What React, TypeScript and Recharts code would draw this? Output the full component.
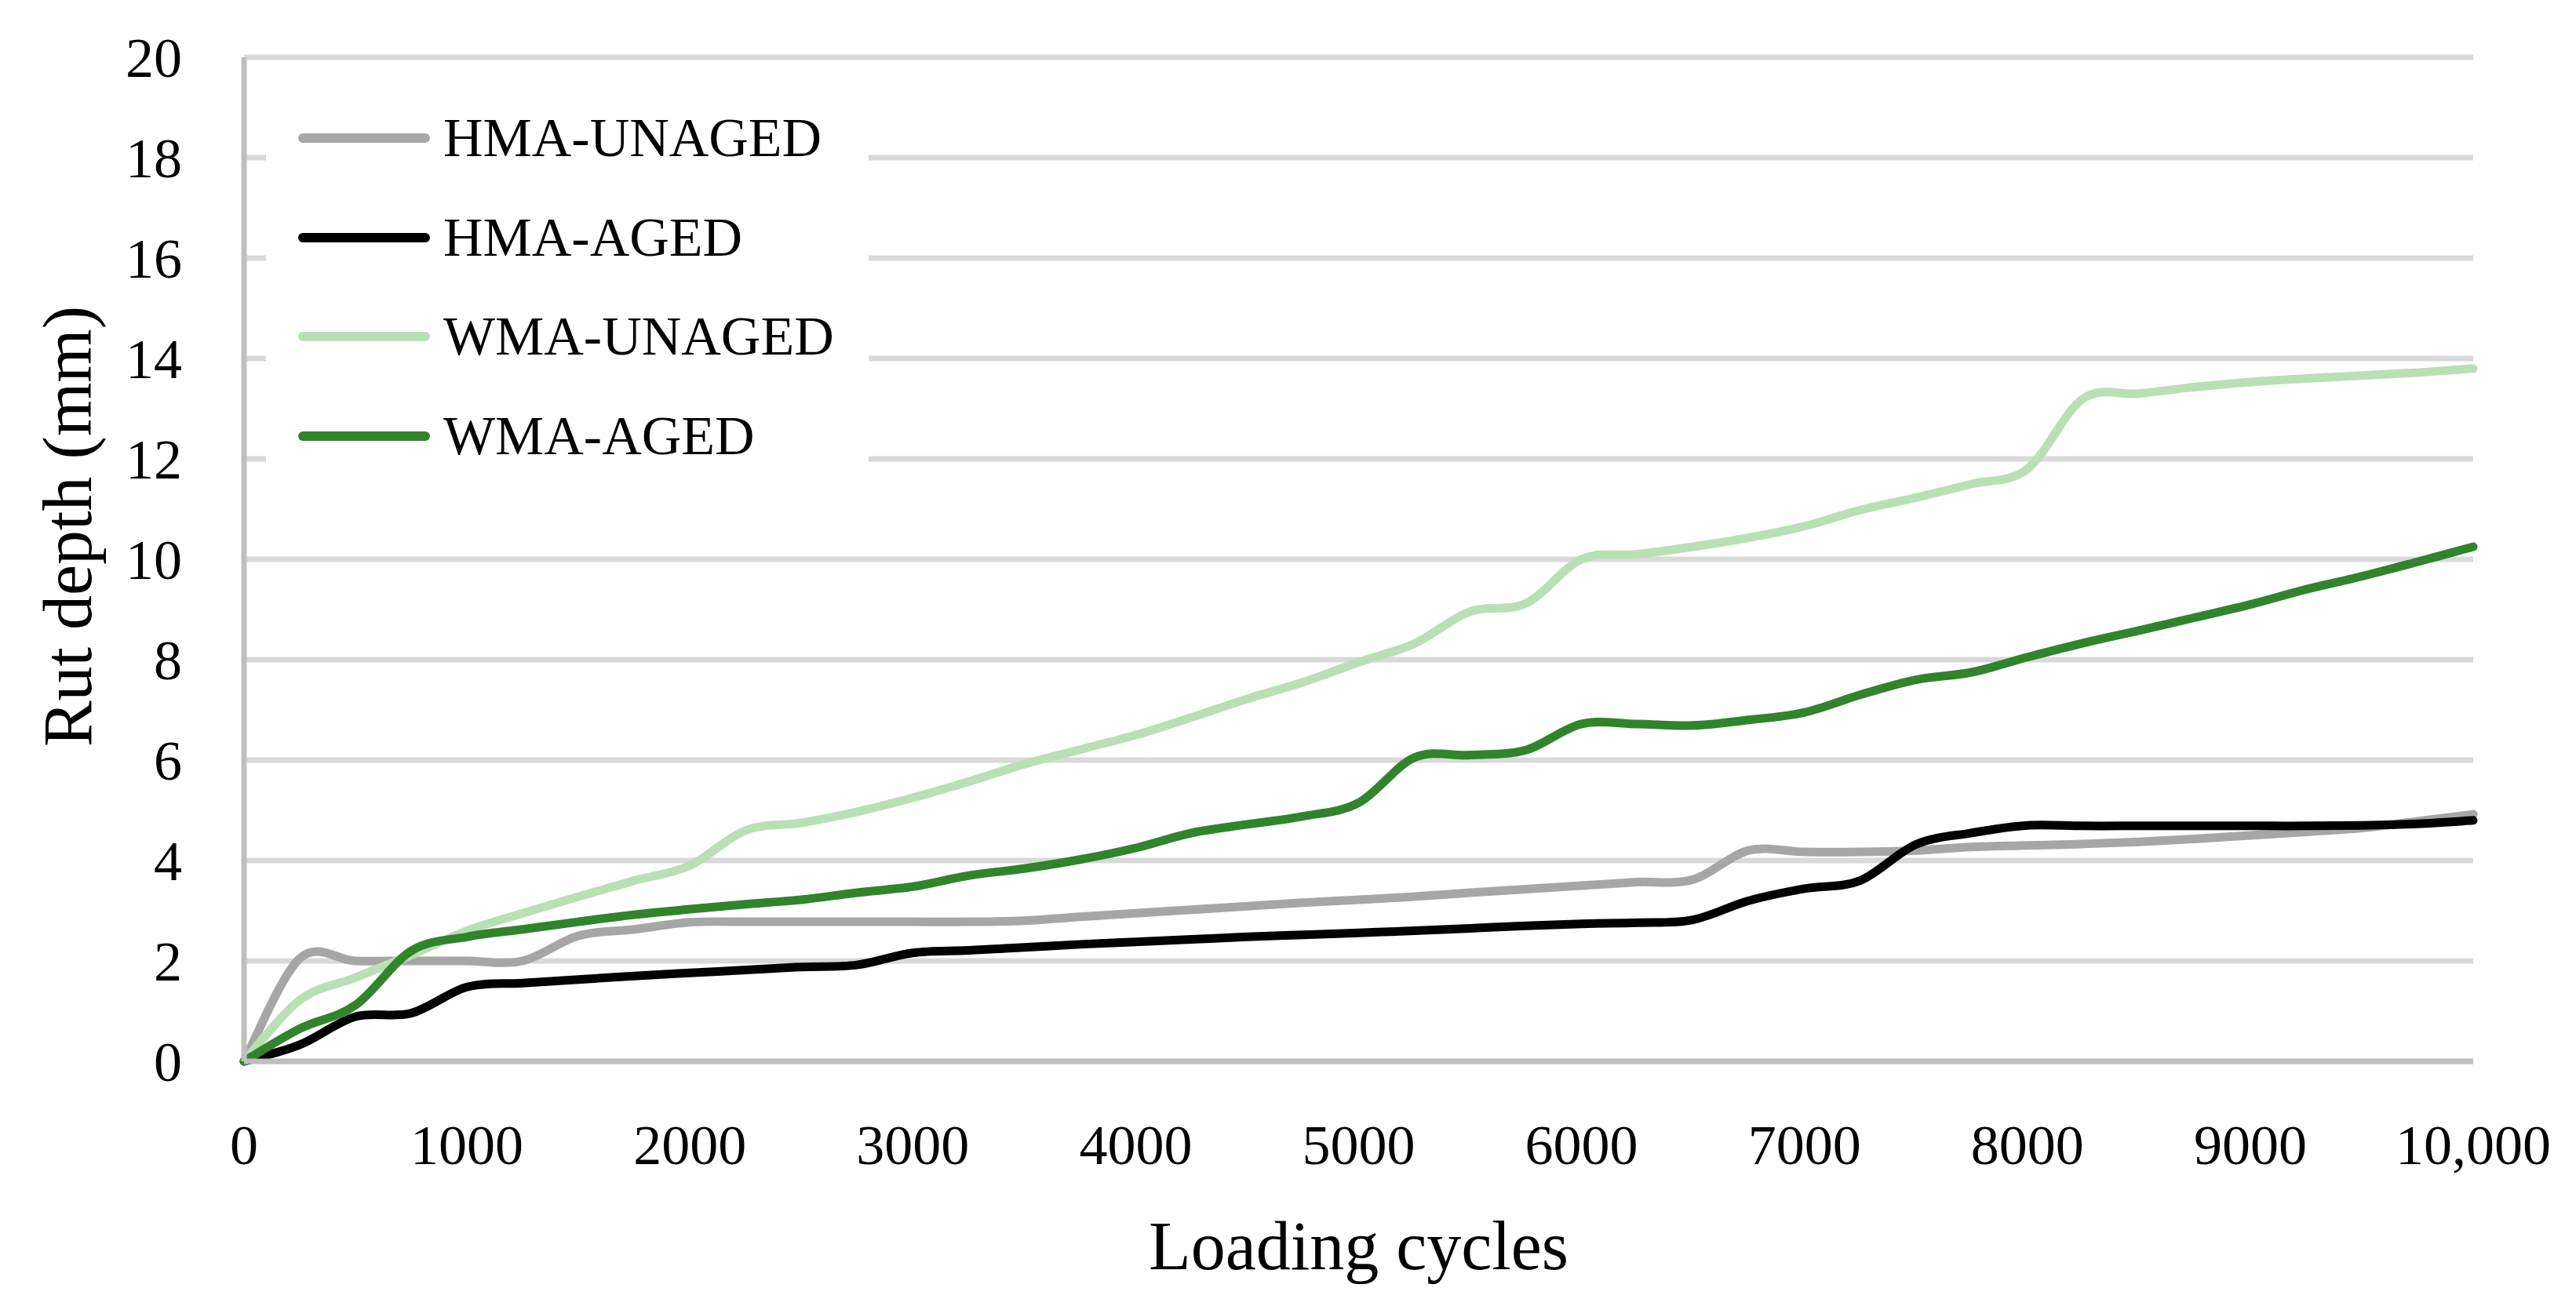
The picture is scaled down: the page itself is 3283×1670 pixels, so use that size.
import React from 'react';
import { LineChart, Line, XAxis, YAxis, CartesianGrid, Legend } from 'recharts';

const cycles = [
  0, 250, 500, 750, 1000, 1250, 1500, 1750, 2000, 2250, 2500, 2750, 3000, 3250, 3500, 3750, 4000,
  4250, 4500, 4750, 5000, 5250, 5500, 5750, 6000, 6250, 6500, 6750, 7000, 7250, 7500, 7750, 8000,
  8250, 8500, 8750, 9000, 9250, 9500, 9750, 10000,
];

const hmaUnaged = [
  0, 2.05, 2.0, 2.0, 2.0, 2.0, 2.5, 2.63, 2.77, 2.78, 2.78, 2.78, 2.78, 2.78, 2.8, 2.88, 2.95,
  3.02, 3.09, 3.16, 3.22, 3.28, 3.36, 3.43, 3.5, 3.57, 3.62, 4.2, 4.17, 4.17, 4.2, 4.27, 4.3,
  4.33, 4.37, 4.43, 4.5, 4.57, 4.65, 4.78, 4.92,
];

const hmaAged = [
  0, 0.33, 0.89, 0.96, 1.48, 1.56, 1.63, 1.7, 1.76, 1.82, 1.88, 1.92, 2.16, 2.21, 2.27, 2.33, 2.38,
  2.43, 2.48, 2.52, 2.56, 2.6, 2.65, 2.7, 2.74, 2.76, 2.82, 3.2, 3.44, 3.6, 4.32, 4.55, 4.7,
  4.69, 4.69, 4.69, 4.69, 4.69, 4.7, 4.73, 4.8,
];

const wmaUnaged = [
  0, 1.22, 1.67, 2.12, 2.6, 2.95, 3.28, 3.6, 3.9, 4.6, 4.75, 4.97, 5.25, 5.57, 5.92, 6.21, 6.5,
  6.85, 7.22, 7.55, 7.95, 8.32, 8.96, 9.12, 10.0, 10.1, 10.25, 10.43, 10.66, 10.98, 11.23, 11.5, 11.8,
  13.2, 13.3, 13.43, 13.53, 13.6, 13.66, 13.72, 13.8,
];

const wmaAged = [
  0, 0.65, 1.12, 2.2, 2.48, 2.63, 2.78, 2.92, 3.03, 3.13, 3.22, 3.36, 3.48, 3.7, 3.84, 4.02, 4.25,
  4.55, 4.72, 4.88, 5.15, 6.05, 6.1, 6.2, 6.72, 6.72, 6.69, 6.8, 6.95, 7.3, 7.6, 7.75, 8.05,
  8.33, 8.58, 8.84, 9.1, 9.4, 9.66, 9.95, 10.25,
];

const seriesNames = ['HMA-UNAGED', 'HMA-AGED', 'WMA-UNAGED', 'WMA-AGED'];

const xTicks = [0, 1000, 2000, 3000, 4000, 5000, 6000, 7000, 8000, 9000, 10000];
const yTicks = [0, 2, 4, 6, 8, 10, 12, 14, 16, 18, 20];

const FONT = '"Liberation Serif", "Times New Roman", serif';

const data = cycles.map((c, i) => ({
  cycles: c,
  hmaUnaged: hmaUnaged[i],
  hmaAged: hmaAged[i],
  wmaUnaged: wmaUnaged[i],
  wmaAged: wmaAged[i],
}));

// Excel-like smoothed line (Catmull-Rom through the points)
const excelSmooth = (context: any) => {
  let pts: [number, number][] = [];
  return {
    areaStart() {},
    areaEnd() {},
    lineStart() {
      pts = [];
    },
    point(x: number, y: number) {
      pts.push([+x, +y]);
    },
    lineEnd() {
      const n = pts.length;
      if (!n) return;
      context.moveTo(pts[0][0], pts[0][1]);
      for (let i = 0; i < n - 1; i++) {
        const p0 = pts[Math.max(i - 1, 0)];
        const p1 = pts[i];
        const p2 = pts[i + 1];
        const p3 = pts[Math.min(i + 2, n - 1)];
        context.bezierCurveTo(
          p1[0] + (p2[0] - p0[0]) / 6,
          p1[1] + (p2[1] - p0[1]) / 6,
          p2[0] - (p3[0] - p1[0]) / 6,
          p2[1] - (p3[1] - p1[1]) / 6,
          p2[0],
          p2[1]
        );
      }
    },
  };
};

const fmtX = (v: number) => (v >= 10000 ? v.toLocaleString('en-US') : String(v));

const XTick = ({ x, y, payload }: any) => (
  <text x={x} y={y + 131} textAnchor="middle" fontSize={72} fontFamily={FONT} fill="#000">
    {fmtX(payload.value)}
  </text>
);

const YTick = ({ x, y, payload }: any) => (
  <text x={x - 79} y={y} dy="0.35em" textAnchor="end" fontSize={72} fontFamily={FONT} fill="#000">
    {payload.value}
  </text>
);

const XTitle = ({ viewBox }: any) => (
  <text
    x={viewBox.x + viewBox.width / 2}
    y={viewBox.y + 265}
    textAnchor="middle"
    fontSize={88}
    fontFamily={FONT}
    fill="#000"
  >
    Loading cycles
  </text>
);

const YTitle = ({ viewBox }: any) => {
  const cx = viewBox.x + 116;
  const cy = viewBox.y + viewBox.height / 2 - 42;
  return (
    <text
      x={cx}
      y={cy}
      transform={`rotate(-90, ${cx}, ${cy})`}
      textAnchor="middle"
      fontSize={88}
      fontFamily={FONT}
      fill="#000"
    >
      Rut depth (mm)
    </text>
  );
};

const renderLegend = (props: any) => {
  const payload = [...(props.payload || [])].sort(
    (a: any, b: any) => seriesNames.indexOf(a.value) - seriesNames.indexOf(b.value)
  );
  return (
    <div
      style={{
        background: '#fff',
        width: 768,
        height: 545,
        paddingTop: 18,
        boxSizing: 'border-box',
      }}
    >
      {payload.map((entry: any) => (
        <div key={entry.value} style={{ display: 'flex', alignItems: 'center', height: 126.5 }}>
          <svg width={170} height={14} style={{ marginLeft: 40, display: 'block' }}>
            <line x1={7} y1={7} x2={163} y2={7} stroke={entry.color} strokeWidth={12} strokeLinecap="round" />
          </svg>
          <span style={{ marginLeft: 16, fontSize: 70, lineHeight: 1, color: '#000', fontFamily: FONT }}>
            {entry.value}
          </span>
        </div>
      ))}
    </div>
  );
};

const App: React.FC = () => {
  return (
    <div style={{ position: 'absolute', left: 0, top: 0, width: 3283, height: 1670, background: '#fff' }}>
      <LineChart width={3283} height={1670} data={data} margin={{ top: 73, right: 131, left: 0, bottom: 0 }}>
        <CartesianGrid vertical={false} stroke="#d9d9d9" strokeWidth={7} />
        <XAxis
          dataKey="cycles"
          type="number"
          domain={[0, 10000]}
          ticks={xTicks}
          interval={0}
          height={317}
          tickSize={0}
          tickMargin={0}
          tickLine={false}
          axisLine={{ stroke: '#bfbfbf', strokeWidth: 7 }}
          tick={<XTick />}
          label={<XTitle />}
        />
        <YAxis
          type="number"
          domain={[0, 20]}
          ticks={yTicks}
          interval={0}
          width={311}
          tickSize={0}
          tickMargin={0}
          tickLine={false}
          axisLine={{ stroke: '#bfbfbf', strokeWidth: 7 }}
          tick={<YTick />}
          label={<YTitle />}
        />
        <Legend
          layout="vertical"
          align="center"
          verticalAlign="middle"
          content={renderLegend}
          wrapperStyle={{ left: 339, top: 95, width: 768, height: 545 }}
        />
        <Line
          name={seriesNames[0]}
          dataKey="hmaUnaged"
          type={excelSmooth as any}
          stroke="#a6a6a6"
          strokeWidth={11}
          strokeLinecap="round"
          strokeLinejoin="round"
          dot={false}
          activeDot={false}
          isAnimationActive={false}
        />
        <Line
          name={seriesNames[1]}
          dataKey="hmaAged"
          type={excelSmooth as any}
          stroke="#000000"
          strokeWidth={11}
          strokeLinecap="round"
          strokeLinejoin="round"
          dot={false}
          activeDot={false}
          isAnimationActive={false}
        />
        <Line
          name={seriesNames[2]}
          dataKey="wmaUnaged"
          type={excelSmooth as any}
          stroke="#b9e0b5"
          strokeWidth={11}
          strokeLinecap="round"
          strokeLinejoin="round"
          dot={false}
          activeDot={false}
          isAnimationActive={false}
        />
        <Line
          name={seriesNames[3]}
          dataKey="wmaAged"
          type={excelSmooth as any}
          stroke="#31842c"
          strokeWidth={11}
          strokeLinecap="round"
          strokeLinejoin="round"
          dot={false}
          activeDot={false}
          isAnimationActive={false}
        />
      </LineChart>
    </div>
  );
};

export default App;
